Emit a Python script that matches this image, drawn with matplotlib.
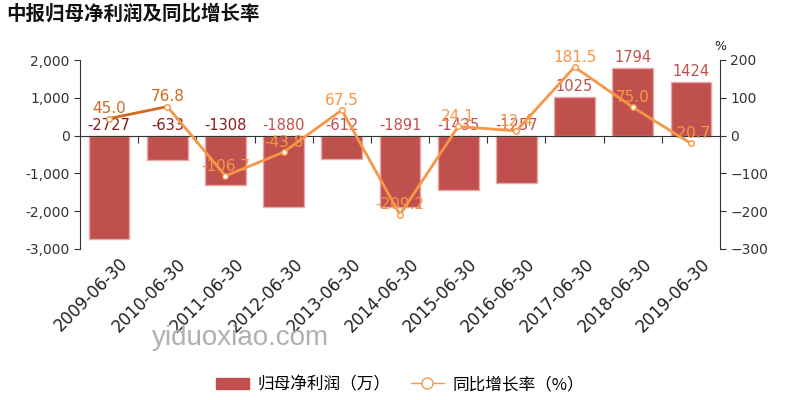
import matplotlib.pyplot as plt
import numpy as np

plt.rcParams['font.family'] = ['Noto Sans CJK SC', 'DejaVu Sans']

dates = ["2009-06-30", "2010-06-30", "2011-06-30", "2012-06-30", "2013-06-30", "2014-06-30",
         "2015-06-30", "2016-06-30", "2017-06-30", "2018-06-30", "2019-06-30"]
profit = [-2727, -633, -1308, -1880, -612, -1891, -1435, -1257, 1025, 1794, 1424]
growth = [45.0, 76.8, -106.7, -43.8, 67.5, -209.2, 24.1, 12.4, 181.5, 75.0, -20.7]

bar_color = "#c0504d"
line_color = "#f79646"
dark_line = "#d2691e"

fig = plt.figure(figsize=(8, 4), dpi=100)
ax = fig.add_axes([0.1, 0.3775, 0.8, 0.4725])
x = np.arange(len(dates))

ax.bar(x, profit, width=0.7, color=bar_color, edgecolor="#e8a8a6", linewidth=1, zorder=2)
ax.set_ylim(-3000, 2000)
ax.set_xlim(-0.5, len(dates) - 0.5)
ax.set_yticks([-3000, -2000, -1000, 0, 1000, 2000])
ax.set_yticklabels(["-3,000", "-2,000", "-1,000", "0", "1,000", "2,000"], family="DejaVu Sans")
ax.spines["top"].set_visible(False)
ax.spines["right"].set_visible(False)
ax.spines["bottom"].set_position(("data", 0))
ax.spines["bottom"].set_color("#333333")
ax.spines["left"].set_color("#333333")
ax.set_xticks(x[:-1] + 0.5)
ax.set_xticklabels([])
ax.tick_params(axis="x", length=5, color="#333333")
ax.tick_params(axis="y", labelsize=10, colors="#333333", length=4)

# date labels drawn below the axes, rotated
for i, d in enumerate(dates):
    ax.text(i + 0.17, -3150, d, rotation=45, ha="right", va="top", fontsize=12,
            color="#222222", family="DejaVu Sans", rotation_mode="anchor")

for i, v in enumerate(profit):
    c = "#8b1a1a" if i < 3 else bar_color
    ty = v if v > 0 else 0
    ax.text(i, ty + 80, str(v), ha="center", va="bottom", fontsize=10.5, color=c,
            family="DejaVu Sans", zorder=5)

ax2 = ax.twinx()
ax2.set_ylim(-300, 200)
ax2.set_yticks([-300, -200, -100, 0, 100, 200])
ax2.spines["top"].set_visible(False)
ax2.spines["left"].set_visible(False)
ax2.spines["bottom"].set_visible(False)
ax2.spines["right"].set_color("#333333")
ax2.tick_params(axis="y", labelsize=10, colors="#333333", length=4)
for lab in ax2.get_yticklabels():
    lab.set_family("DejaVu Sans")

ax2.plot(x[:2], growth[:2], color=dark_line, linewidth=2, zorder=3)
ax2.plot(x[1:], growth[1:], color=line_color, linewidth=2, zorder=3)
ax2.plot(x, growth, linestyle="none", marker="o", markersize=4, markerfacecolor="white",
         markeredgecolor=line_color, zorder=4)
for i, v in enumerate(growth):
    c = "#d2691e" if i < 2 else line_color
    ax2.text(i, v + 6, f"{v:.1f}", ha="center", va="bottom", fontsize=11, color=c,
             family="DejaVu Sans", zorder=5)
ax2.text(len(dates) - 0.5, 236, "%", ha="center", va="center", fontsize=9, color="#222222",
         family="DejaVu Sans")

fig.text(0.008, 0.965, "中报归母净利润及同比增长率", fontsize=14, fontweight="bold", ha="left",
         va="center", color="#111111")
fig.text(0.19, 0.155, "yiduoxiao.com", fontsize=20, color="#b0b0b0", ha="left", va="center",
         family="Liberation Sans")

h1 = plt.Rectangle((0, 0), 1, 1, color=bar_color)
h2 = plt.Line2D([], [], color=line_color, marker="o", markerfacecolor="white",
                markeredgecolor=line_color, markersize=8, linewidth=1)
fig.legend([h1, h2], ["归母净利润（万）", "同比增长率（%）"], loc="center",
           bbox_to_anchor=(0.5, 0.038), ncol=2, frameon=False, fontsize=12,
           handlelength=2, columnspacing=1.2, handletextpad=0.5)

fig.savefig("out.png", dpi=100)
